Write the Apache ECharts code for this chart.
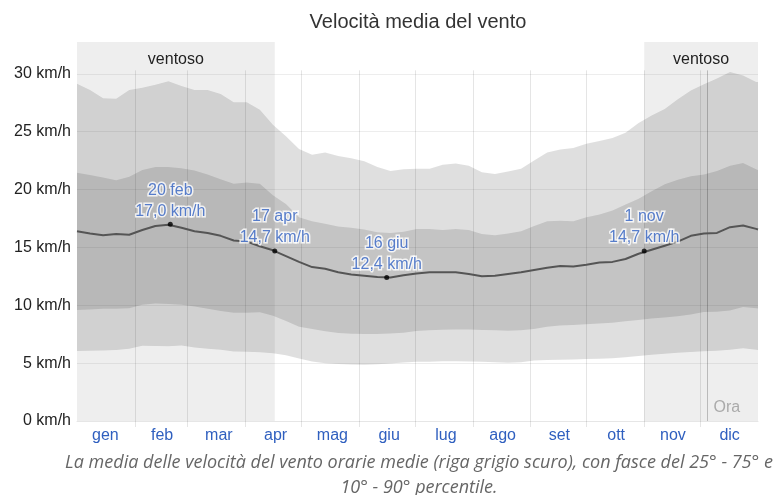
<!DOCTYPE html>
<html>
<head>
<meta charset="utf-8">
<script src="https://cdn.jsdelivr.net/npm/echarts@6/dist/echarts.min.js"></script>
<style>
html,body{margin:0;padding:0;background:#fff;}
#chart{width:781px;height:495px;}
</style>
</head>
<body>
<div id="chart"></div>
<script>
// ---- data ----
const days = [0,7,14,21,28,35,42,49,56,63,70,77,84,91,98,105,112,119,126,133,140,147,154,161,168,175,182,189,196,203,210,217,224,231,238,245,252,259,266,273,280,287,294,301,308,315,322,329,336,343,350,357,364,365];
const meanSpeed = [16.4,16.2,16.05,16.15,16.1,16.5,16.85,16.95,16.7,16.4,16.25,16.0,15.6,15.5,15.1,14.75,14.25,13.75,13.3,13.15,12.85,12.65,12.55,12.45,12.4,12.6,12.75,12.85,12.85,12.85,12.7,12.5,12.55,12.7,12.85,13.05,13.25,13.4,13.35,13.5,13.7,13.75,14.0,14.45,14.8,15.15,15.5,16.0,16.2,16.25,16.75,16.9,16.6,16.55];
const p90 = [29.15,28.6,27.9,27.85,28.6,28.8,29.05,29.35,28.95,28.6,28.6,28.25,27.55,27.55,26.9,25.6,24.6,23.5,23.0,23.2,22.9,22.7,22.45,21.95,21.6,21.75,21.8,21.8,22.15,22.25,22.05,21.5,21.35,21.55,21.8,22.5,23.2,23.45,23.6,23.95,24.2,24.45,24.9,25.75,26.4,26.95,27.8,28.55,29.1,29.6,30.15,29.85,29.3,29.3];
const p75 = [21.45,21.25,21.05,20.8,21.1,21.7,21.95,21.95,21.85,21.65,21.3,20.9,20.5,20.6,20.5,19.5,18.75,17.6,17.25,17.05,16.8,16.7,16.55,16.3,16.25,16.35,16.6,16.6,16.5,16.6,16.5,16.15,16.05,16.2,16.4,16.85,17.25,17.3,17.25,17.6,17.85,18.2,18.7,19.2,19.85,20.45,20.85,21.15,21.3,21.6,22.05,22.3,21.75,21.7];
const p25 = [9.6,9.63,9.7,9.7,9.75,10.05,10.15,10.1,10.05,9.9,9.7,9.5,9.35,9.35,9.4,9.1,8.65,8.15,7.95,7.75,7.6,7.55,7.52,7.52,7.56,7.62,7.78,7.85,7.88,7.9,7.9,7.86,7.84,7.8,7.85,7.95,8.15,8.25,8.3,8.35,8.42,8.5,8.62,8.72,8.85,8.95,9.05,9.2,9.42,9.45,9.55,9.85,9.75,9.73];
const p10 = [6.04,6.07,6.1,6.13,6.25,6.5,6.48,6.45,6.52,6.35,6.25,6.15,6.0,5.98,5.95,5.85,5.68,5.4,5.15,5.0,4.92,4.88,4.85,4.9,4.96,5.05,5.12,5.13,5.17,5.16,5.14,5.12,5.07,5.04,5.08,5.22,5.27,5.3,5.32,5.35,5.38,5.42,5.5,5.62,5.72,5.82,5.9,5.96,6.02,6.06,6.15,6.28,6.15,6.13];

const months = ['gen','feb','mar','apr','mag','giu','lug','ago','set','ott','nov','dic'];
const monthBoundaries = [31,59,90,120,151,181,212,243,273,304,334];
const windySeasons = [[0,106],[304,365]];
const windyLabel = 'ventoso';
const annoDays = [50,106,166,304];
const annoValues = [17.0,14.7,12.4,14.7];
const annoLabels = ['20 feb','17 apr','16 giu','1 nov'];
const nowDay = 337.5;
const nowLabel = 'Ora';
const yTicks = [0,5,10,15,20,25,30];

const titleText = 'Velocità media del vento';
const captionText = 'La media delle velocità del vento orarie medie (riga grigio scuro), con fasce del 25° - 75° e\n10° - 90° percentile.';

// ---- chart ----
const FONT = 'Liberation Sans, Arial, sans-serif';
const BLUE = '#2f5fbf';
const lineTop = 30.3;

const chart = echarts.init(document.getElementById('chart'), null, {renderer:'canvas'});

const pair = (arr) => days.map((d,i)=>[d, arr[i]]);

function bandSeries(name, lo, hi, color) {
  return {
    type:'custom', name: name, xAxisIndex:0, yAxisIndex:0, silent:true, z:2,
    data: days.map((d,i)=>[d, lo[i], hi[i]]),
    encode: {x:0, y:[1,2]},
    renderItem: (params, api) => {
      if (params.dataIndex !== 0) return null;
      const pts = [];
      for (let i = 0; i < days.length; i++) pts.push(api.coord([days[i], hi[i]]));
      for (let i = days.length - 1; i >= 0; i--) pts.push(api.coord([days[i], lo[i]]));
      return {type:'polygon', shape:{points: pts}, style:{fill: color}};
    }
  };
}

const option = {
  animation: false,
  grid: {left: 77, right: 23, top: 42, bottom: 74, containLabel: false},
  graphic: [
    {type:'text', x: 418, y: 22, style:{text: titleText, font: '20px ' + FONT, fill:'#333', align:'center', verticalAlign:'middle'}},
    {type:'text', x: 419, y: 475, style:{text: captionText, font: 'italic 18px "Open Sans", sans-serif', fill:'#666', align:'center', verticalAlign:'middle', lineHeight: 25}}
  ],
  xAxis: [
    {type:'value', min:0, max:365, axisLabel:{show:false}, axisTick:{show:false}, splitLine:{show:false},
     axisLine:{show:true, lineStyle:{color:'#e6e6e6', width:1}}},
    {type:'category', data: months, position:'bottom', boundaryGap:true,
     axisLine:{show:false}, axisTick:{show:false}, splitLine:{show:false},
     axisLabel:{color: BLUE, fontSize:16, fontFamily: FONT, margin:7}}
  ],
  yAxis: {
    type:'value', min:0, max:32.75, interval:5,
    axisLine:{show:false}, axisTick:{show:false},
    axisLabel:{formatter:(v)=> (yTicks.indexOf(v) >= 0 ? v + ' km/h' : ''), showMaxLabel:false, color:'#222', fontSize:16, fontFamily: FONT, margin:6},
    splitLine:{show:true, showMaxLine:false, lineStyle:{color:'rgba(0,0,0,0.07)', width:1}}
  },
  series: [
    bandSeries('p10-90', p10, p90, 'rgba(0,0,0,0.125)'),
    bandSeries('p25-75', p25, p75, 'rgba(0,0,0,0.12)'),
    {type:'custom', name:'months', xAxisIndex:0, yAxisIndex:0, silent:true, z:3,
     data: monthBoundaries.map(d=>[d]),
     renderItem: (params, api) => {
       const d = api.value(0);
       const t = api.coord([d, lineTop]);
       const b = api.coord([d, 0]);
       const x = Math.round(t[0]) + 0.5;
       return {type:'line', shape:{x1:x, y1:t[1], x2:x, y2:b[1]+6}, style:{stroke:'rgba(0,0,0,0.1)', lineWidth:1}};
     }},
    {type:'custom', name:'now', xAxisIndex:0, yAxisIndex:0, silent:true, z:3,
     data: [[nowDay]],
     renderItem: (params, api) => {
       const d = api.value(0);
       const t = api.coord([d, lineTop]);
       const b = api.coord([d, 0]);
       const x = Math.round(t[0]) + 0.5;
       return {type:'group', children:[
         {type:'line', shape:{x1:x, y1:t[1], x2:x, y2:b[1]}, style:{stroke:'rgba(0,0,0,0.22)', lineWidth:1}},
         {type:'text', x: x + 6, y: b[1] - 5, style:{text: nowLabel, font:'16px ' + FONT, fill:'#aaa', align:'left', verticalAlign:'bottom'}}
       ]};
     }},
    {type:'line', name:'media', data: pair(meanSpeed), symbol:'none', z:5,
     lineStyle:{color:'#555', width:2}, silent:true,
     markArea:{silent:true, itemStyle:{color:'rgba(0,0,0,0.067)'},
       label:{show:true, position:'insideTop', distance:10, color:'#222', fontSize:16, fontFamily: FONT},
       data: windySeasons.map(s=>[{xAxis:s[0], name: windyLabel},{xAxis:s[1]}])}
    },
    {type:'scatter', name:'anno', z:6, symbol:'circle', symbolSize:5, itemStyle:{color:'#000'},
     data: annoDays.map((d,i)=>({value:[d, annoValues[i]], name: annoLabels[i]})),
     label:{show:true, position:'top', distance:0, color: BLUE, fontSize:16, fontFamily: FONT, lineHeight:21,
       textBorderColor:'#fff', textBorderWidth:3, align:'center',
       formatter:(p)=> p.name + '\n' + p.value[1].toFixed(1).replace('.', ',') + ' km/h'}}
  ]
};
chart.setOption(option);
</script>
</body>
</html>
